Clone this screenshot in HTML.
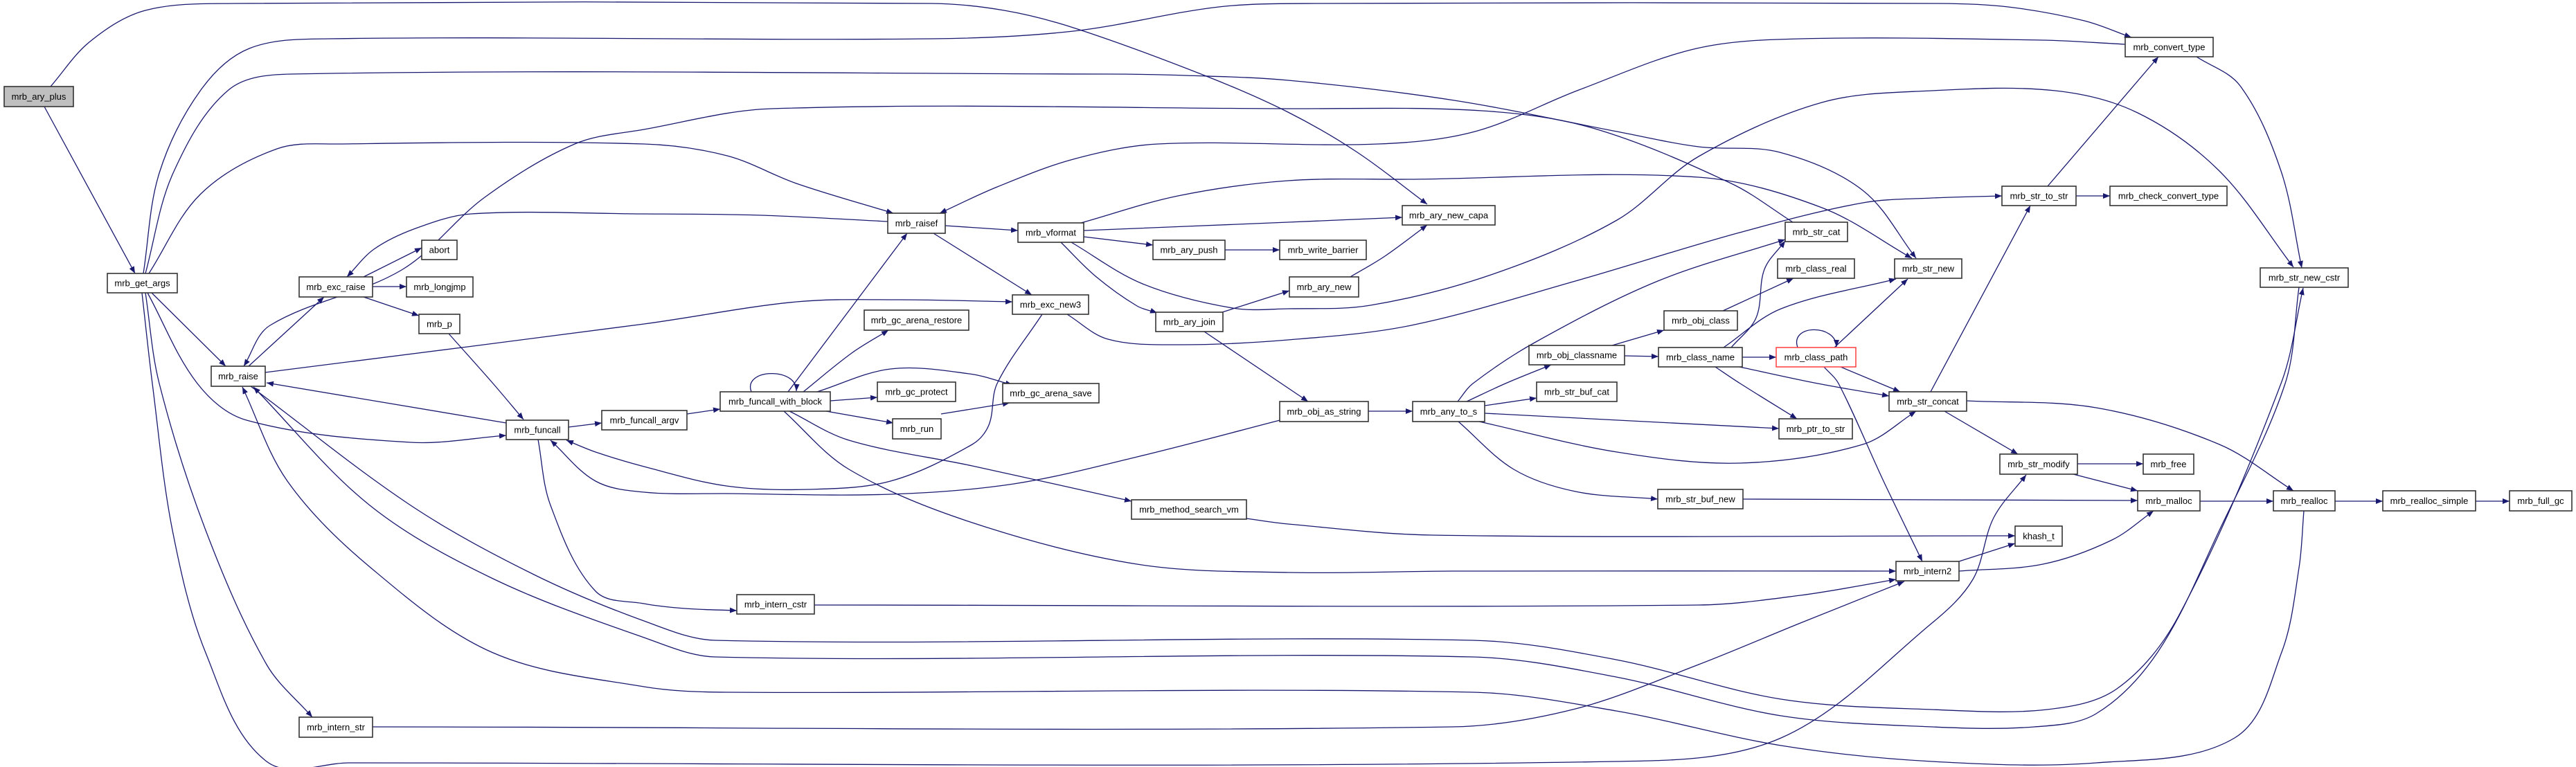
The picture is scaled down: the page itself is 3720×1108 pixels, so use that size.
<!DOCTYPE html>
<html><head><meta charset="utf-8"><style>
html,body{margin:0;padding:0;background:#fff;}
svg{display:block;}
text{font-family:"Liberation Sans",Arial,sans-serif;font-size:13px;fill:#000;}
</style></head><body>
<svg id="g" xmlns="http://www.w3.org/2000/svg" width="3720" height="1108" viewBox="0 0 3720 1108">
<defs><marker id="a" markerUnits="userSpaceOnUse" markerWidth="11" markerHeight="8" refX="10" refY="4" orient="auto"><path d="M0,0 L10,4 L0,8 z" fill="#191970"/></marker></defs>
<rect width="3720" height="1108" fill="#fff"/>
<g id="edges" fill="none" stroke="#191970" stroke-width="1.3">
<path d="M1085,566 C1072,532 1152,530 1150,565" marker-end="url(#a)"/>
<path d="M2596,502 C2584,468 2652,468 2652,501" marker-end="url(#a)"/>
</g>
<g id="nodes"></g>
</svg>
<script>
var E=[
[[64,154],[195,395]],
[[73,125],[130,60],[210,15],[340,5],[1345,5],[1450,15],[1553,41],[1742,110],[1860,162],[1960,220],[2061,295]],
[[207,395],[230,250],[290,130],[360,70],[475,56],[1345,56],[1550,45],[1760,10],[1900,5],[2800,5],[2900,10],[3010,30],[3078,54]],
[[3069,64],[2950,58],[2600,56],[2450,70],[2280,130],[2130,190],[1990,208],[1672,208],[1550,230],[1440,270],[1357,308]],
[[210,395],[250,250],[330,130],[420,107],[1600,107],[1712,109],[1860,116],[2100,145],[2335,190],[2453,212],[2570,220],[2690,275],[2767,373]],
[[215,395],[290,280],[400,215],[490,208],[930,208],[1050,225],[1150,265],[1290,308]],
[[2589,321],[2500,265],[2300,185],[2140,160],[1860,157],[1114,157],[930,187],[830,208],[700,285],[580,390],[390,470],[352,529]],
[[1282,320],[1100,311],[930,309],[680,309],[600,330],[540,360],[501,400]],
[[383,538],[930,468],[1150,436],[1300,433],[1462,436]],
[[1365,326],[1470,333]],
[[1348,337],[1490,426]],
[[1565,342],[1665,354]],
[[1769,361],[1848,361]],
[[1532,350],[1582,399],[1642,442],[1671,452]],
[[1561,322],[1701,283],[1860,261],[2038,259],[2453,256],[2631,300],[2761,373]],
[[1565,333],[1860,321],[2025,314]],
[[1547,350],[1650,410],[1780,445],[1860,446],[1979,441],[2156,396],[2335,318],[2453,226],[2631,148],[2790,131],[2968,131],[3087,163],[3205,247],[3312,386]],
[[1541,454],[1600,490],[1700,498],[1860,491],[2038,470],[2275,406],[2512,336],[2690,293],[2790,286],[2891,283]],
[[1505,454],[1440,554],[1428,614],[1404,642],[1286,695],[1167,707],[1049,702],[930,674],[860,653],[818,636]],
[[1860,604],[1642,660],[1464,699],[1286,714],[1049,713],[930,711],[860,695],[795,636]],
[[648,482],[712,554],[756,606]],
[[731,611],[385,553]],
[[213,423],[285,554],[356,607],[593,639],[731,629]],
[[821,617],[869,611]],
[[992,598],[1040,591]],
[[777,635],[795,730],[860,854],[930,872],[989,879],[1064,882]],
[[1176,874],[2453,874],[2600,860],[2738,837]],
[[538,1050],[2097,1050],[2275,1024],[2453,960],[2600,900],[2750,840]],
[[210,423],[230,554],[297,766],[385,960],[451,1036]],
[[205,423],[220,554],[249,766],[297,943],[385,1100],[504,1102],[2334,1100],[2572,1066],[2790,900],[2849,837],[2879,748],[2926,686]],
[[219,423],[326,529]],
[[359,529],[468,429]],
[[525,400],[609,358]],
[[538,414],[587,414]],
[[525,429],[605,456]],
[[3327,738],[3320,820],[3295,942],[3227,1066],[3027,1102],[2790,1100],[2572,1077],[2334,1027],[2127,1000],[1049,1000],[930,992],[712,943],[534,819],[415,695],[350,559]],
[[3320,415],[3300,554],[3205,766],[3116,942],[3027,1031],[2938,1050],[2790,1050],[2572,1034],[2334,978],[2127,949],[1033,949],[930,921],[712,836],[534,730],[366,559]],
[[362,558],[593,730],[771,830],[930,897],[1033,925],[2127,925],[2334,953],[2572,1010],[2790,1025],[2956,1025],[3057,995],[3146,890],[3294,554],[3326,416]],
[[1138,566],[1310,337]],
[[1160,566],[1230,510],[1283,477]],
[[1180,566],[1286,533],[1400,540],[1462,556]],
[[1199,579],[1267,574]],
[[1193,594],[1290,611]],
[[1359,598],[1458,582]],
[[1140,594],[1226,636],[1404,673],[1634,724]],
[[1132,594],[1226,678],[1404,755],[1642,815],[1860,827],[2097,825],[2738,825]],
[[1800,749],[1860,757],[2067,773],[2910,774]],
[[2829,811],[2910,785]],
[[2829,825],[2950,815],[3050,780],[3110,738]],
[[1765,451],[1862,420]],
[[1950,400],[2000,370],[2061,325]],
[[1739,479],[1889,580]],
[[1976,594],[2040,594]],
[[2144,586],[2219,575]],
[[2118,580],[2174,554],[2240,527]],
[[2105,580],[2127,554],[2216,495],[2394,406],[2578,346]],
[[2144,597],[2569,619]],
[[2136,609],[2335,653],[2513,669],[2690,642],[2767,594]],
[[2106,609],[2186,678],[2275,710],[2394,721]],
[[2517,721],[3087,723]],
[[2328,499],[2403,477]],
[[2346,514],[2395,515]],
[[2488,449],[2590,402]],
[[2516,516],[2565,516]],
[[2500,502],[2536,459],[2548,389],[2578,348]],
[[2489,502],[2572,446],[2738,403]],
[[2477,530],[2513,554],[2595,605]],
[[2512,530],[2625,554],[2728,572]],
[[2649,502],[2755,403]],
[[2658,530],[2744,566]],
[[2634,530],[2655,554],[2720,695],[2776,811]],
[[2788,566],[2932,297]],
[[2808,594],[2914,656]],
[[2840,579],[3027,589],[3205,642],[3312,709]],
[[3000,670],[3095,670]],
[[2994,685],[3087,709]],
[[3177,724],[3283,724]],
[[3372,724],[3441,724]],
[[3575,724],[3624,724]],
[[2957,269],[3117,82]],
[[2998,283],[3047,283]],
[[3172,82],[3235,124],[3294,247],[3324,387]]
];
var N=[
["mrb_ary_plus",6,106,125,154,1],["mrb_get_args",155,256,395,423],["mrb_exc_raise",432,538,400,429],["abort",609,660,347,375],
["mrb_longjmp",587,683,400,429],["mrb_p",605,664,454,482],["mrb_raise",305,383,529,558],["mrb_funcall",731,821,607,635],
["mrb_funcall_argv",869,992,593,621],["mrb_intern_str",432,538,1036,1065],["mrb_raisef",1282,1365,308,337],["mrb_vformat",1470,1565,322,350],
["mrb_ary_push",1665,1769,347,375],["mrb_exc_new3",1462,1572,426,454],["mrb_gc_arena_restore",1248,1399,448,477],["mrb_ary_join",1669,1766,451,479],
["mrb_funcall_with_block",1040,1199,566,594],["mrb_gc_protect",1267,1380,552,580],["mrb_gc_arena_save",1448,1587,554,582],["mrb_run",1289,1359,605,634],
["mrb_method_search_vm",1634,1800,722,750],["mrb_intern_cstr",1064,1176,859,887],["mrb_ary_new_capa",2025,2159,297,325],["mrb_write_barrier",1848,1973,347,375],
["mrb_ary_new",1862,1962,400,429],["mrb_str_cat",2578,2668,321,349],["mrb_class_real",2567,2678,374,402],["mrb_str_new",2736,2833,374,402],
["mrb_obj_class",2403,2509,449,477],["mrb_obj_classname",2208,2346,499,527],["mrb_class_name",2395,2516,502,530],["mrb_class_path",2565,2680,502,530,2],
["mrb_str_buf_cat",2219,2335,552,580],["mrb_obj_as_string",1848,1976,580,609],["mrb_any_to_s",2040,2144,580,609],["mrb_ptr_to_str",2569,2675,605,634],
["mrb_str_concat",2728,2840,566,594],["mrb_str_buf_new",2394,2517,707,735],["mrb_intern2",2738,2829,811,839],["mrb_convert_type",3069,3196,54,82],
["mrb_str_to_str",2891,2998,269,297],["mrb_check_convert_type",3047,3216,269,297],["mrb_str_new_cstr",3264,3391,387,415],["mrb_str_modify",2888,3000,656,685],
["mrb_free",3095,3168,656,685],["mrb_malloc",3087,3177,709,738],["mrb_realloc",3283,3372,709,738],["mrb_realloc_simple",3441,3575,709,738],
["mrb_full_gc",3624,3714,709,738],["khash_t",2910,2978,760,789]
];
var NS="http://www.w3.org/2000/svg";
var eg=document.getElementById("edges"),ng=document.getElementById("nodes");
function unit(a,b){var dx=b[0]-a[0],dy=b[1]-a[1],l=Math.sqrt(dx*dx+dy*dy)||1;return [dx/l,dy/l];}
function cr(p){
  var d="M"+p[0][0]+","+p[0][1];
  if(p.length==2){return d+" L"+p[1][0]+","+p[1][1];}
  for(var i=0;i<p.length-1;i++){
    var p0=p[i-1]||p[i],p1=p[i],p2=p[i+1],p3=p[i+2]||p[i+1];
    var L=Math.sqrt(Math.pow(p2[0]-p1[0],2)+Math.pow(p2[1]-p1[1],2))/3;
    var t1=unit(p0,p2),t2=unit(p1,p3);
    var c1x=p1[0]+t1[0]*L,c1y=p1[1]+t1[1]*L;
    var c2x=p2[0]-t2[0]*L,c2y=p2[1]-t2[1]*L;
    d+=" C"+c1x.toFixed(1)+","+c1y.toFixed(1)+" "+c2x.toFixed(1)+","+c2y.toFixed(1)+" "+p2[0]+","+p2[1];
  }
  return d;
}
E.forEach(function(p){
  var e=document.createElementNS(NS,"path");
  e.setAttribute("d",cr(p));
  e.setAttribute("marker-end","url(#a)");
  eg.appendChild(e);
});
N.forEach(function(n){
  var r=document.createElementNS(NS,"rect");
  r.setAttribute("x",n[1]);r.setAttribute("y",n[3]);
  r.setAttribute("width",n[2]-n[1]);r.setAttribute("height",n[4]-n[3]);
  r.setAttribute("fill",n[5]==1?"#bfbfbf":"#fff");
  r.setAttribute("stroke",n[5]==2?"#ff4a4a":"#333");
  r.setAttribute("stroke-width","1.6");
  ng.appendChild(r);
  var t=document.createElementNS(NS,"text");
  t.setAttribute("x",(n[1]+n[2])/2);t.setAttribute("y",(n[3]+n[4])/2+4.5);
  t.setAttribute("text-anchor","middle");
  t.textContent=n[0];
  ng.appendChild(t);
});
</script>
</body></html>
